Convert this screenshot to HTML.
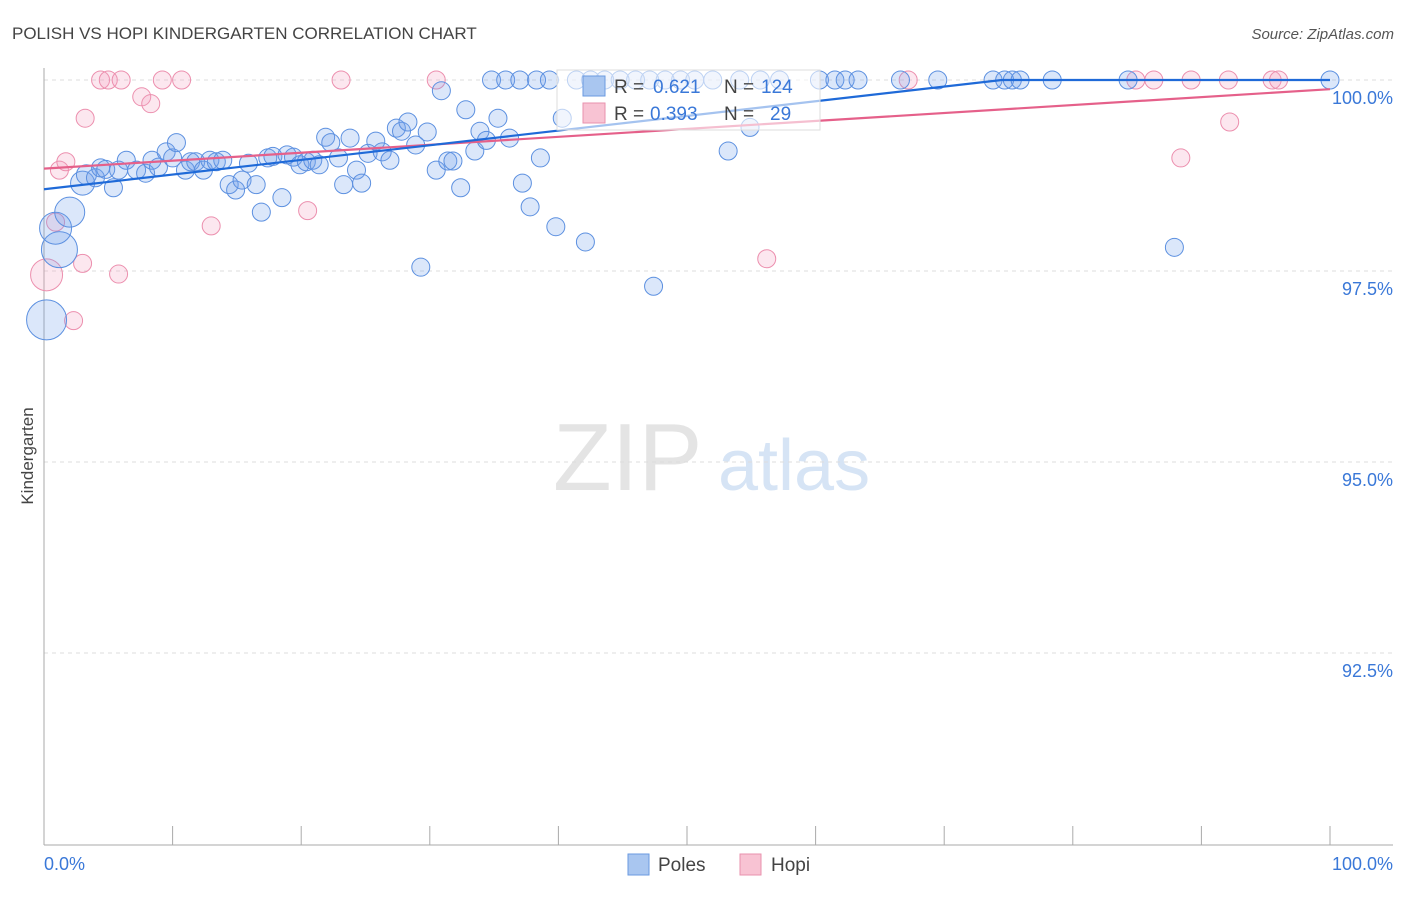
<!DOCTYPE html>
<html><head><meta charset="utf-8"><style>
body{margin:0;background:#fff;font-family:"Liberation Sans",sans-serif}
svg text{font-family:"Liberation Sans",sans-serif}
</style></head><body>
<svg id="chart" width="1406" height="892" xmlns="http://www.w3.org/2000/svg">
<text x="12" y="39" font-size="17" fill="#444">POLISH VS HOPI KINDERGARTEN CORRELATION CHART</text>
<text x="1394" y="39" font-size="15" fill="#555" text-anchor="end" font-style="italic">Source: ZipAtlas.com</text>
<g>
<text x="553" y="490" font-size="96" fill="#e4e4e4" font-family="Liberation Serif,serif">ZIP</text>
<text x="718" y="490" font-size="72" fill="#d6e4f5">atlas</text>
</g>
<g id="grid"></g>
<g id="axes"></g>
<g id="marks"></g>
<g>
<rect x="557" y="70" width="263" height="60" fill="#fff" fill-opacity="0.6" stroke="#ddd"/>
<rect x="583" y="76" width="22" height="20" fill="#a9c6f0" stroke="#6a9ae0"/>
<text x="614" y="93" font-size="19" fill="#444">R = </text><text x="653" y="93" font-size="19" fill="#3a78d8">0.621</text>
<text x="724" y="93" font-size="19" fill="#444">N = </text><text x="761" y="93" font-size="19" fill="#3a78d8">124</text>
<rect x="583" y="103" width="22" height="20" fill="#f8c3d3" stroke="#e892ae"/>
<text x="614" y="120" font-size="19" fill="#444">R = </text><text x="650" y="120" font-size="19" fill="#3a78d8">0.393</text>
<text x="724" y="120" font-size="19" fill="#444">N = </text><text x="770" y="120" font-size="19" fill="#3a78d8">29</text>
</g>
<g>
<rect x="628" y="854" width="21" height="21" fill="#a9c6f0" stroke="#6a9ae0"/>
<text x="658" y="871" font-size="19" fill="#444">Poles</text>
<rect x="740" y="854" width="21" height="21" fill="#f8c3d3" stroke="#e892ae"/>
<text x="771" y="871" font-size="19" fill="#444">Hopi</text>
</g>
<text transform="translate(33,456) rotate(-90)" font-size="17" fill="#444" text-anchor="middle">Kindergarten</text>
</svg>
<script>
const yTicks=[100,97.5,95,92.5];
const yTickLabels=["100.0%","97.5%","95.0%","92.5%"];
const xTickLabels=["0.0%","100.0%"];
const polesX=[0.2,1.2,0.9,2.0,3.0,3.3,4.0,4.4,4.8,5.4,5.8,6.4,7.2,7.9,8.4,8.9,9.5,10.0,10.3,11.0,11.4,11.8,12.4,12.9,13.4,13.9,14.4,14.9,15.4,15.9,16.5,16.9,17.4,17.8,18.5,18.9,19.4,19.9,20.4,20.9,21.4,21.9,22.3,22.9,23.3,23.8,24.3,24.7,25.2,25.8,26.3,26.9,27.4,27.8,28.3,28.9,29.3,29.8,30.5,30.9,31.4,31.8,32.4,32.8,33.5,33.9,34.4,35.3,36.2,37.2,37.8,38.6,39.8,40.3,42.1,47.4,53.2,54.9,87.9,34.8,35.9,37.0,38.3,39.3,41.4,42.5,43.6,44.8,46.0,47.1,48.3,49.5,50.6,52.0,54.1,55.7,57.2,60.3,61.5,62.3,63.3,66.6,69.5,73.8,74.7,75.3,75.9,78.4,84.3,100];
const polesY=[96.86,97.78,98.06,98.27,98.65,98.76,98.72,98.85,98.83,98.59,98.82,98.95,98.82,98.78,98.95,98.86,99.06,98.98,99.18,98.82,98.93,98.93,98.82,98.95,98.93,98.95,98.63,98.56,98.69,98.91,98.63,98.27,98.98,99.0,98.46,99.02,98.99,98.89,98.93,98.95,98.89,99.25,99.18,98.98,98.63,99.24,98.82,98.65,99.04,99.2,99.06,98.95,99.37,99.33,99.45,99.15,97.55,99.32,98.82,99.86,98.94,98.94,98.59,99.61,99.07,99.33,99.21,99.5,99.24,98.65,98.34,98.98,98.08,99.5,97.88,97.3,99.07,99.38,97.81,100,100,100,100,100,100,100,100,100,100,100,100,100,100,100,100,100,100,100,100,100,100,100,100,100,100,100,100,100,100,100];
const polesSize=[20,18,16,15,12,10,9,9,9,9,9,9,9,9,9,9,9,9,9,9,9,9,9,9,9,9,9,9,9,9,9,9,9,9,9,9,9,9,9,9,9,9,9,9,9,9,9,9,9,9,9,9,9,9,9,9,9,9,9,9,9,9,9,9,9,9,9,9,9,9,9,9,9,9,9,9,9,9,9,9,9,9,9,9,9,9,9,9,9,9,9,9,9,9,9,9,9,9,9,9,9,9,9,9,9,9,9,9,9,9];
const hopiX=[0.2,0.9,1.2,1.7,3.0,2.3,3.2,4.4,5.0,6.0,7.6,8.3,5.8,9.2,10.7,13.0,20.5,23.1,30.5,56.2,67.2,84.9,86.3,88.4,89.2,92.1,92.2,95.5,96.0];
const hopiY=[97.45,98.14,98.82,98.93,97.6,96.85,99.5,100,100,100,99.78,99.69,97.46,100,100,98.09,98.29,100,100,97.66,100,100,100,98.98,100,100,99.45,100,100];
const hopiSize=[16,9,9,9,9,9,9,9,9,9,9,9,9,9,9,9,9,9,9,9,9,9,9,9,9,9,9,9,9];
const polesLine=[98.57,100.49];
const hopiLine=[98.84,99.88];
const NS="http://www.w3.org/2000/svg";
const X0=44,X1=1330,Y100=80,PXPER=76.4;
const xs=v=>X0+(X1-X0)*v/100;
const ys=v=>Y100+(100-v)*PXPER;
function mk(tag,attrs,parent){const e=document.createElementNS(NS,tag);for(const k in attrs)e.setAttribute(k,attrs[k]);parent.appendChild(e);return e;}
const grid=document.getElementById('grid'),axes=document.getElementById('axes'),marks=document.getElementById('marks');
yTicks.forEach((t,i)=>{
 const l=mk('line',{x1:X0,x2:1393,y1:ys(t),y2:ys(t),stroke:'#ddd','stroke-dasharray':'4,4'},grid);
 
 
 const tx=mk('text',{x:1393,y:ys(t)+24,'font-size':18,fill:'#3a78d8','text-anchor':'end'},axes);
 tx.textContent=yTickLabels[i];
 
 
});
const ax=mk('line',{x1:X0,x2:X0,y1:68,y2:845,stroke:'#aaa'},axes);


const bx=mk('line',{x1:X0,x2:1393,y1:845,y2:845,stroke:'#aaa'},axes);


for(let i=0;i<=10;i++){const t=mk('line',{x1:xs(i*10),x2:xs(i*10),y1:826,y2:845,stroke:'#aaa'},axes);
 
 }
[[0,'start',44],[1,'end',1393]].forEach(([i,a,x])=>{const t=mk('text',{x:x,y:870,'font-size':18,fill:'#3a78d8','text-anchor':a},axes);t.textContent=xTickLabels[i];
 
 });
function dots(X,Y,S,fill,stroke,name){X.forEach((v,i)=>{const c=mk('circle',{cx:xs(v),cy:ys(Y[i]),r:S[i],fill:fill,stroke:stroke,'stroke-width':1},marks);
 
 });}
dots(hopiX,hopiY,hopiSize,'rgba(245,160,190,0.25)','#ec8fae','hopi-point');
dots(polesX,polesY,polesSize,'rgba(110,160,235,0.25)','#5c90e0','poles-point');
function trend(L,color,name){
 let x2=100,y2=L[1];
 if(y2>100){x2=100*(100-L[0])/(L[1]-L[0]);y2=100;}
 const p=mk('polyline',{points:`${xs(0)},${ys(L[0])} ${xs(x2)},${ys(y2)} ${xs(100)},${ys(y2)}`,fill:'none',stroke:color,'stroke-width':2.2},marks);
 
 
}
trend(hopiLine,'#e5608a','hopi-trendline');
trend(polesLine,'#1f6ad8','poles-trendline');
</script>
</body></html>
